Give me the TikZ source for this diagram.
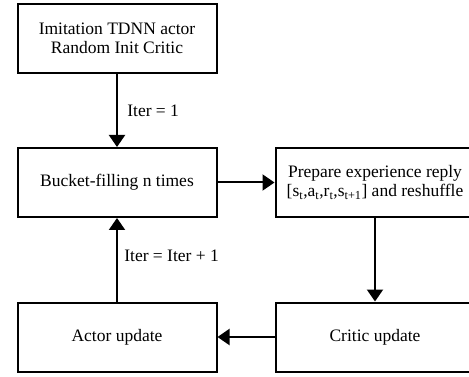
\documentclass[tikz,border=0pt]{standalone}
\usepackage{fontspec}
\setmainfont{Liberation Serif}
\usetikzlibrary{arrows.meta}
\begin{document}
\begin{tikzpicture}[
			x = 1pt, y = -1pt,
			font = \fontsize{17.5}{19}\selectfont,
			box/.style = {draw, line width = 2pt, minimum width = 199pt, minimum height = 69pt, align = center, inner sep = 0pt},
			flow/.style = {line width = 2pt, -{Triangle[width=16pt,length=12pt]}}]

			\useasboundingbox (0,0) rectangle (469,377);
			\clip (0,0) rectangle (469,377);

			\node[box] (init) at (117,38.5) {Imitation TDNN actor\\Random Init Critic};
			\node[box] (bucket) at (117,182.5) {Bucket-filling n times};
			\node[box] (replay) at (375,182.5) {Prepare experience reply\\{}[s\textsubscript{t},a\textsubscript{t},r\textsubscript{t},s\textsubscript{t+1}] and reshuffle};
			\node[box] (critic) at (375,337) {Critic update};
			\node[box] (actor) at (117,337) {Actor update};

			\draw[flow] (init) -- (bucket) node[midway, right = 6pt] (iterone) {Iter = 1};
			\draw[flow] (bucket) -- (replay);
			\draw[flow] (replay) -- (critic);
			\draw[flow] (critic) -- (actor);
			\draw[flow] (actor) -- (bucket) node[midway, right = 3pt, yshift = 4pt] (iternext) {Iter = Iter + 1};

		\end{tikzpicture}
\end{document}
